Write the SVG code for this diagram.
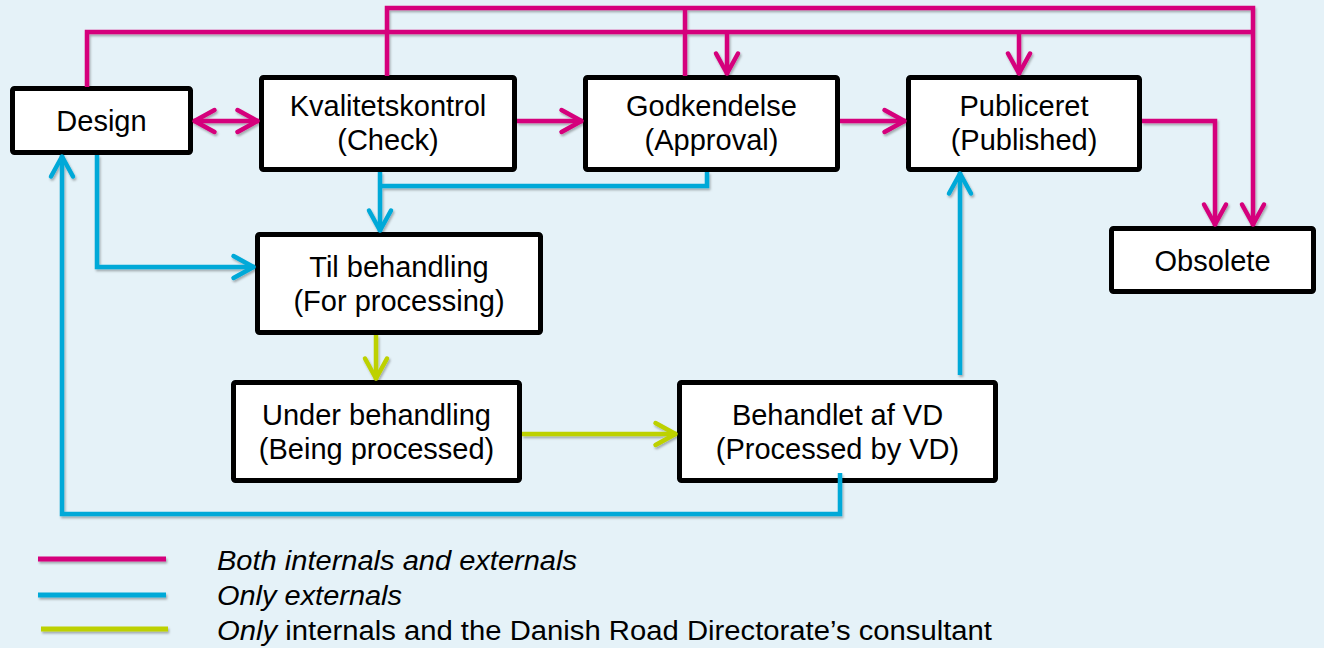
<svg xmlns="http://www.w3.org/2000/svg" width="1324" height="648" viewBox="0 0 1324 648">
  <style>
    .box rect { fill: #ffffff; stroke: #000000; stroke-width: 5; }
    .box text, .legend text { font-family: "Liberation Sans", Arial, sans-serif; fill: #000000; }
    .box text { font-size: 29px; text-anchor: middle; }
    .legend text { font-size: 27px; }
    .c { fill: none; stroke-width: 4.5; stroke-linejoin: miter; }
    .pink { stroke: #D5037C; }
    .blue { stroke: #00A9D8; }
    .green { stroke: #BDD100; }
  </style>
  <defs>
    <filter id="sh" x="-10%" y="-10%" width="120%" height="120%">
      <feDropShadow dx="1.2" dy="2" stdDeviation="1.2" flood-color="#000" flood-opacity="0.3"/>
    </filter>
    <marker id="ap" viewBox="-26 -15 30 30" refX="1.5" refY="0" markerWidth="30" markerHeight="30" markerUnits="userSpaceOnUse" orient="auto-start-reverse">
      <path d="M-20,-11 L0,0 L-20,11" fill="none" stroke="#D5037C" stroke-width="4.5" stroke-linecap="round" stroke-linejoin="round"/>
    </marker>
    <marker id="ab" viewBox="-26 -15 30 30" refX="1.5" refY="0" markerWidth="30" markerHeight="30" markerUnits="userSpaceOnUse" orient="auto-start-reverse">
      <path d="M-20,-11 L0,0 L-20,11" fill="none" stroke="#00A9D8" stroke-width="4.5" stroke-linecap="round" stroke-linejoin="round"/>
    </marker>
    <marker id="ag" viewBox="-26 -15 30 30" refX="1.5" refY="0" markerWidth="30" markerHeight="30" markerUnits="userSpaceOnUse" orient="auto-start-reverse">
      <path d="M-20,-11 L0,0 L-20,11" fill="none" stroke="#BDD100" stroke-width="4.5" stroke-linecap="round" stroke-linejoin="round"/>
    </marker>
  </defs>

  <rect x="0" y="0" width="1324" height="648" fill="#E5F2F8"/>

  <g id="node-design" class="box">
    <rect x="12.5" y="88.5" width="178" height="64" rx="2"/>
    <text x="101.5" y="130.5">Design</text>
  </g>
  <g id="node-kvalitetskontrol" class="box">
    <rect x="261.5" y="77.5" width="253" height="92" rx="2"/>
    <text x="388" y="116">Kvalitetskontrol</text>
    <text x="388" y="150">(Check)</text>
  </g>
  <g id="node-godkendelse" class="box">
    <rect x="585.5" y="77.5" width="252" height="92" rx="2"/>
    <text x="711.5" y="116">Godkendelse</text>
    <text x="711.5" y="150">(Approval)</text>
  </g>
  <g id="node-publiceret" class="box">
    <rect x="908.5" y="77.5" width="231" height="92" rx="2"/>
    <text x="1024" y="116">Publiceret</text>
    <text x="1024" y="150">(Published)</text>
  </g>
  <g id="node-obsolete" class="box">
    <rect x="1111.5" y="228.5" width="202" height="63" rx="2"/>
    <text x="1212.5" y="270.5">Obsolete</text>
  </g>
  <g id="node-til-behandling" class="box">
    <rect x="257.5" y="234.5" width="283" height="98" rx="2"/>
    <text x="399" y="277">Til behandling</text>
    <text x="399" y="311">(For processing)</text>
  </g>
  <g id="node-under-behandling" class="box">
    <rect x="233.5" y="382.5" width="286" height="98" rx="2"/>
    <text x="376.5" y="425">Under behandling</text>
    <text x="376.5" y="459">(Being processed)</text>
  </g>
  <g id="node-behandlet" class="box">
    <rect x="679.5" y="382.5" width="316" height="98" rx="2"/>
    <text x="837.5" y="425">Behandlet af VD</text>
    <text x="837.5" y="459">(Processed by VD)</text>
  </g>

  <g id="connectors" filter="url(#sh)">
    <!-- pink: both internals and externals -->
    <path class="c pink" d="M193,121 H259" marker-start="url(#ap)" marker-end="url(#ap)"/>
    <path class="c pink" d="M517,121 H583" marker-end="url(#ap)"/>
    <path class="c pink" d="M840,121 H906" marker-end="url(#ap)"/>
    <path class="c pink" d="M87,87 V32 H1253"/>
    <path class="c pink" d="M387,76 V8 H1253 V226" marker-end="url(#ap)"/>
    <path class="c pink" d="M685,76 V8"/>
    <path class="c pink" d="M727,32 V75" marker-end="url(#ap)"/>
    <path class="c pink" d="M1019,32 V75" marker-end="url(#ap)"/>
    <path class="c pink" d="M1142,121 H1215 V226" marker-end="url(#ap)"/>
    <!-- blue: only externals -->
    <path class="c blue" d="M97,155 V267 H255" marker-end="url(#ab)"/>
    <path class="c blue" d="M380,172 V232" marker-end="url(#ab)"/>
    <path class="c blue" d="M707,172 V186 H380"/>
    <path class="c blue" d="M840,473 V514 H62 V155" marker-end="url(#ab)"/>
    <path class="c blue" d="M960,375 V172" marker-end="url(#ab)"/>
    <!-- green: only internals and VD consultant -->
    <path class="c green" d="M376,335 V380" marker-end="url(#ag)"/>
    <path class="c green" d="M522,434 H677" marker-end="url(#ag)"/>
  </g>

  <g id="legend" class="legend">
    <g filter="url(#sh)">
      <path d="M38,559 H166" stroke="#D5037C" stroke-width="5"/>
      <path d="M38,595 H166" stroke="#00A9D8" stroke-width="5"/>
      <path d="M41,629 H168" stroke="#BDD100" stroke-width="5"/>
    </g>
    <text x="217" y="570" font-style="italic" textLength="360" lengthAdjust="spacingAndGlyphs">Both internals and externals</text>
    <text x="217" y="605" font-style="italic" textLength="185" lengthAdjust="spacingAndGlyphs">Only externals</text>
    <text x="217" y="640" textLength="775" lengthAdjust="spacingAndGlyphs"><tspan font-style="italic">Only</tspan> internals and the Danish Road Directorate’s consultant</text>
  </g>
</svg>
